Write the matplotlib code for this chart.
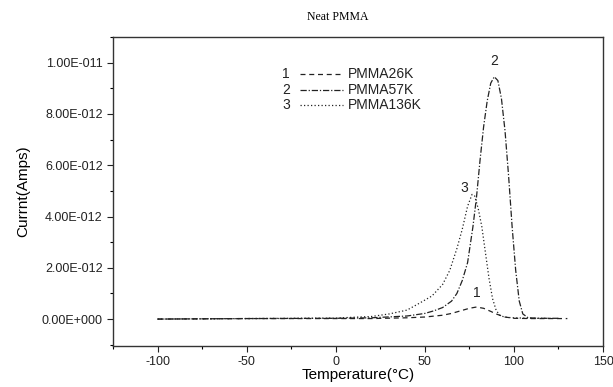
import matplotlib
matplotlib.use("Agg")
import matplotlib.pyplot as plt
from matplotlib.ticker import FuncFormatter, MultipleLocator

# Data (Current in units of 1e-12 A)
x1 = [-100, -75, -50, -25, 0, 20, 40, 50, 60, 65, 70, 75, 79, 83, 87, 90, 95, 100, 110, 120, 130]
y1 = [0.0, 0.01, 0.02, 0.02, 0.02, 0.02, 0.05, 0.08, 0.15, 0.22, 0.32, 0.42, 0.47, 0.42, 0.30, 0.20, 0.08, 0.03, 0.02, 0.02, 0.02]

x2 = [-100, -50, 0, 20, 40, 50, 55, 60, 65, 68, 71, 74, 77, 79, 81, 83, 85, 87, 89, 91, 93, 95, 97, 99, 101, 103, 105, 108, 115, 125]
y2 = [0.0, 0.02, 0.03, 0.05, 0.12, 0.22, 0.32, 0.45, 0.7, 1.0, 1.5, 2.2, 3.6, 4.75, 6.2, 7.5, 8.5, 9.2, 9.45, 9.3, 8.6, 7.35, 5.6, 3.6, 1.9, 0.7, 0.2, 0.05, 0.03, 0.03]

x3 = [-100, -50, 0, 20, 30, 40, 47, 54, 60, 64, 68, 71, 74, 76.5, 78, 80, 82, 84, 86, 88, 90, 92, 95, 100, 110, 120]
y3 = [0.0, 0.02, 0.04, 0.1, 0.2, 0.35, 0.62, 0.9, 1.35, 1.9, 2.75, 3.5, 4.4, 4.86, 4.8, 4.3, 3.6, 2.6, 1.6, 0.8, 0.35, 0.15, 0.07, 0.05, 0.03, 0.03]

labels = ["PMMA26K", "PMMA57K", "PMMA136K"]
numbers = ["1", "2", "3"]
peak_label_pos = [(79, 1.0), (89, 10.05), (72, 5.1)]

plt.rcParams['font.family'] = ['Liberation Sans', 'DejaVu Sans']
plt.rcParams['axes.unicode_minus'] = False

fig = plt.figure(figsize=(6.13, 3.87), dpi=100)
ax = fig.add_axes([113/613, 1 - 346/387, 490/613, 309/387])

scale = 1e-12
lw = 0.9
styles = [(0, (4, 3)), (0, (5, 1.5, 1, 1.5)), (0, (1, 1.8))]
ax.plot(x1, [v * scale for v in y1], color='#222222', lw=lw, linestyle=styles[0])
ax.plot(x2, [v * scale for v in y2], color='#222222', lw=lw, linestyle=styles[1])
ax.plot(x3, [v * scale for v in y3], color='#222222', lw=lw, linestyle=styles[2])

for n, (px, py) in zip(numbers, peak_label_pos):
    ax.text(px, py * scale, n, fontsize=10, ha='center', va='center', color='#222222')

# legend drawn as text + line samples
leg_y = [9.55, 8.95, 8.35]
for n, lab, st, yy in zip(numbers, labels, styles, leg_y):
    ax.text(-28, yy * scale, n, fontsize=10, ha='center', va='center', color='#222222')
    ax.plot([-20, 4], [yy * scale, yy * scale], color='#222222', lw=lw, linestyle=st)
    ax.text(7, yy * scale, lab, fontsize=10, ha='left', va='center', color='#222222')

ax.set_xlim(-125, 150)
ax.set_ylim(-1.05e-12, 1.1e-11)
ax.xaxis.set_major_locator(MultipleLocator(50))
ax.xaxis.set_minor_locator(MultipleLocator(25))
ax.yaxis.set_major_locator(MultipleLocator(2e-12))
ax.yaxis.set_minor_locator(MultipleLocator(1e-12))

def fmt(v, pos):
    if abs(v) < 1e-20:
        return "0.00E+000"
    s = "%.2E" % v
    mant, exp = s.split("E")
    e = int(exp)
    sign = "-" if e < 0 else "+"
    return "%sE%s%03d" % (mant, sign, abs(e))

ax.yaxis.set_major_formatter(FuncFormatter(fmt))
ax.tick_params(axis='both', which='major', direction='out', length=4, width=0.8, labelsize=9, colors='#222222')
ax.tick_params(axis='both', which='minor', direction='out', length=2.5, width=0.8)
ax.tick_params(axis='x', pad=3)
for s in ax.spines.values():
    s.set_linewidth(1.0)
    s.set_color('#333333')

ax.set_xlabel("Temperature(\u00b0C)", fontsize=11, labelpad=0)
ax.set_ylabel("Currnt(Amps)", fontsize=11, labelpad=8)
fig.text(338/613, 1 - 17/387, "Neat PMMA", fontsize=8.5, ha='center', va='center', family=['Liberation Serif'])

fig.savefig("out.png", dpi=100)
